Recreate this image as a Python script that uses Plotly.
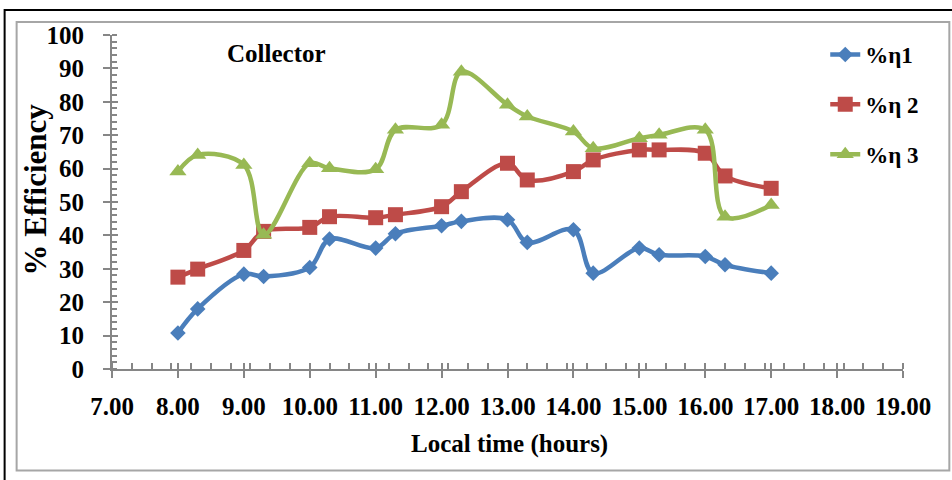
import plotly.graph_objects as go

# Local time of each reading (hours, hh.mm written as decimals)
hours = [8.0, 8.3, 9.0, 9.3, 10.0, 10.3, 11.0, 11.3, 12.0, 12.3,
         13.0, 13.3, 14.0, 14.3, 15.0, 15.3, 16.0, 16.3, 17.0]

# Collector efficiency series (%)
eff_1 = [10.8, 18.0, 28.4, 27.7, 30.4, 38.9, 36.2, 40.5, 42.9, 44.2,
         44.7, 37.9, 41.7, 28.7, 36.2, 34.2, 33.7, 31.2, 28.7]
eff_2 = [27.5, 29.9, 35.5, 41.2, 42.4, 45.6, 45.3, 46.2, 48.6, 53.1,
         61.6, 56.6, 59.1, 62.6, 65.6, 65.6, 64.6, 57.8, 54.1]
eff_3 = [59.1, 64.1, 61.1, 40.2, 61.6, 60.1, 59.8, 71.6, 73.1, 89.0,
         79.1, 75.6, 71.1, 66.1, 69.1, 70.1, 71.6, 45.6, 49.1]

series_names = ["%η1", "%η 2", "%η 3"]
x_ticks = [7, 8, 9, 10, 11, 12, 13, 14, 15, 16, 17, 18, 19]

W, H = 952, 480
L, R, T, B = 112.3, 902.7, 35.0, 369.3  # plot area in pixels


def px_x(p):
    return (p - L) / (R - L)


def px_y(p):
    return (B - p) / (B - T)


SERIF = "Liberation Serif"
AXIS_GREY = "#868686"

fig = go.Figure()

styles = [
    dict(color="#4A7EBB", symbol="diamond", size=12),
    dict(color="#BE4B48", symbol="square", size=15),
    dict(color="#98B954", symbol="triangle-up", size=15),
]

for name, vals, st in zip(series_names, [eff_1, eff_2, eff_3], styles):
    fig.add_trace(go.Scatter(
        x=hours, y=vals, name=name, mode="lines+markers",
        legendgroup=name,
        line=dict(color=st["color"], width=4.5, shape="spline", smoothing=1),
        marker=dict(color=st["color"], symbol=st["symbol"], size=st["size"],
                    line=dict(width=0)),
        cliponaxis=False,
    ))

# companion axes carrying the inner half of the major tick marks
fig.add_trace(go.Scatter(x=[], y=[], xaxis="x2", yaxis="y2",
                         showlegend=False, hoverinfo="skip"))

tick_font = dict(family=SERIF, size=25, color="black", weight="bold")

fig.update_layout(
    width=W, height=H,
    margin=dict(l=112, r=49, t=35, b=111),
    paper_bgcolor="white", plot_bgcolor="white",
    showlegend=True,
    legend=dict(
        x=px_x(825), y=px_y(33), xanchor="left", yanchor="top",
        font=dict(family=SERIF, size=23, color="black", weight="bold"),
        bgcolor="rgba(0,0,0,0)", tracegroupgap=17, itemwidth=30,
    ),
    xaxis=dict(
        range=[7, 19], tickmode="array", tickvals=x_ticks,
        ticktext=[f"{v:.2f}" for v in x_ticks],
        ticks="outside", ticklen=7, tickwidth=2, tickcolor=AXIS_GREY,
        showline=True, linecolor=AXIS_GREY, linewidth=2,
        showgrid=False, zeroline=False, tickfont=tick_font,
        ticklabelstandoff=7,
        minor=dict(ticks="inside", tick0=7, dtick=0.3, ticklen=6,
                   tickwidth=1.5, tickcolor=AXIS_GREY, showgrid=False),
    ),
    yaxis=dict(
        range=[0, 100], dtick=10, tick0=0,
        ticks="outside", ticklen=7, tickwidth=2, tickcolor=AXIS_GREY,
        showline=True, linecolor=AXIS_GREY, linewidth=2,
        showgrid=False, zeroline=False, tickfont=tick_font,
        ticklabelstandoff=14,
        minor=dict(ticks="inside", tick0=0, dtick=2, ticklen=5,
                   tickwidth=1.5, tickcolor=AXIS_GREY, showgrid=False),
    ),
    xaxis2=dict(
        overlaying="x", anchor="y2", matches="x", range=[7, 19],
        tickmode="array", tickvals=x_ticks, ticks="inside", ticklen=6,
        tickwidth=2, tickcolor=AXIS_GREY, showticklabels=False,
        showline=False, showgrid=False, zeroline=False,
    ),
    yaxis2=dict(
        overlaying="y", anchor="x2", matches="y", range=[0, 100],
        dtick=10, ticks="inside", ticklen=6, tickwidth=2,
        tickcolor=AXIS_GREY, showticklabels=False,
        showline=False, showgrid=False, zeroline=False,
    ),
    shapes=[
        dict(type="rect", xref="paper", yref="paper", layer="below",
             x0=px_x(5), y0=px_y(490), x1=px_x(965), y1=px_y(10),
             line=dict(color="black", width=2), fillcolor="rgba(0,0,0,0)"),
        dict(type="rect", xref="paper", yref="paper", layer="below",
             x0=px_x(17), y0=px_y(471), x1=px_x(949), y1=px_y(22),
             line=dict(color="#A6A6A6", width=2), fillcolor="rgba(0,0,0,0)"),
    ],
    annotations=[
        dict(text="Collector", xref="paper", yref="paper",
             x=px_x(277), y=px_y(54), showarrow=False,
             xanchor="center", yanchor="middle",
             font=dict(family=SERIF, size=25, color="black", weight="bold")),
        dict(text="% Efficiency", xref="paper", yref="paper",
             x=px_x(36), y=px_y(190), showarrow=False, textangle=-90,
             xanchor="center", yanchor="middle",
             font=dict(family=SERIF, size=31, color="black", weight="bold")),
        dict(text="Local time (hours)", xref="paper", yref="paper",
             x=px_x(509), y=px_y(444), showarrow=False,
             xanchor="center", yanchor="middle",
             font=dict(family=SERIF, size=25, color="black", weight="bold")),
    ],
)

fig.write_html("out.html")
